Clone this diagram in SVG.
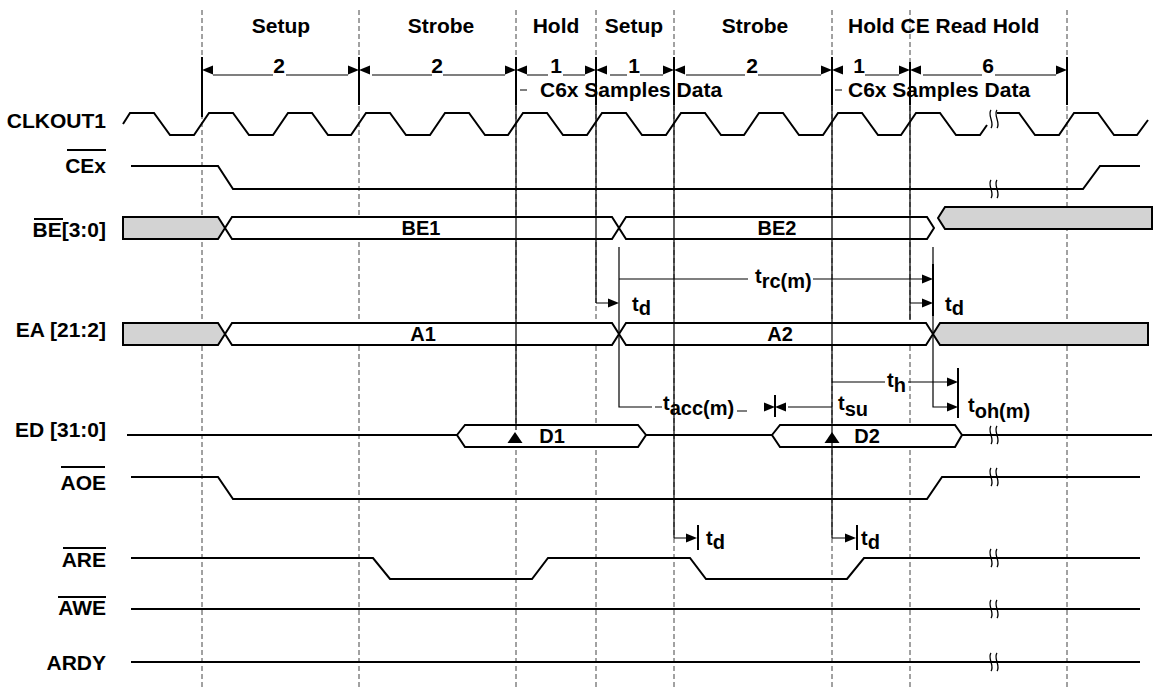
<svg xmlns="http://www.w3.org/2000/svg" width="1155" height="688" viewBox="0 0 1155 688">
<defs>
<style>
text{font-family:"Liberation Sans",Arial,Helvetica,sans-serif;font-weight:bold;fill:#000}
.lbl{font-size:21px;text-anchor:end}
.hdr{font-size:21px;text-anchor:middle}
.hs{font-size:21px}
.num{font-size:21px;text-anchor:middle}
.bt{font-size:20px;text-anchor:middle}
.tm{font-size:20px}
.sig{fill:none;stroke:#000;stroke-width:2;stroke-linejoin:miter}
.bus{stroke:#000;stroke-width:2;fill:#fff;stroke-linejoin:miter}
.gray{fill:#d3d3d3}
.grid{stroke:#444;stroke-width:1;stroke-dasharray:5 3;fill:none}
.ref{stroke:#000;stroke-width:1.2;fill:none}
.mk{stroke:#000;stroke-width:2;fill:none}
.ov{stroke:#000;stroke-width:2}
.brk{fill:none;stroke:#000;stroke-width:1.3}
.ah{fill:#000}
</style>
<path id="aR" class="ah" d="M0,0 L-11,-4.5 L-11,4.5 Z"/>
<path id="aL" class="ah" d="M0,0 L11,-4.5 L11,4.5 Z"/>
<path id="br" class="brk" d="M-3,-9 C-7,-4 1,4 -3,9 M3,-9 C-1,-4 7,4 3,9"/>
<path id="tri" class="ah" d="M0,0 L-7.5,11 L7.5,11 Z"/>
</defs>
<rect width="1155" height="688" fill="#fff"/>

<g id="grid">
<path class="grid" d="M202,10V688 M359,10V688 M516,10V688 M596,10V688 M674,10V688 M832,10V688 M910,10V688 M1067,10V688"/>
</g>

<g id="phases">
<text class="hdr" x="281" y="33">Setup</text>
<text class="hdr" x="441" y="33">Strobe</text>
<text class="hdr" x="556" y="33">Hold</text>
<text class="hdr" x="634" y="33">Setup</text>
<text class="hdr" x="755" y="33">Strobe</text>
<text class="hs" x="848" y="33">Hold CE Read Hold</text>
<text class="hs" x="540" y="97">C6x Samples Data</text>
<text class="hs" x="848" y="97">C6x Samples Data</text>
<text class="num" x="279" y="73">2</text>
<text class="num" x="437" y="73">2</text>
<text class="num" x="556" y="73">1</text>
<text class="num" x="634" y="73">1</text>
<text class="num" x="752" y="73">2</text>
<text class="num" x="859" y="73">1</text>
<text class="num" x="988" y="73">6</text>
</g>

<g id="labels">
<text class="lbl" x="106" y="128">CLKOUT1</text>
<text class="lbl" x="106" y="173">CEx</text>
<line class="ov" x1="67" y1="150" x2="106" y2="150"/>
<text class="lbl" x="106" y="237">BE[3:0]</text>
<line class="ov" x1="34" y1="219" x2="63" y2="219"/>
<text class="lbl" x="106" y="337">EA [21:2]</text>
<text class="lbl" x="106" y="437">ED [31:0]</text>
<text class="lbl" x="106" y="490">AOE</text>
<line class="ov" x1="61" y1="467" x2="105" y2="467"/>
<text class="lbl" x="106" y="567">ARE</text>
<line class="ov" x1="63" y1="548" x2="106" y2="548"/>
<text class="lbl" x="106" y="615">AWE</text>
<line class="ov" x1="58" y1="597" x2="106" y2="597"/>
<text class="lbl" x="106" y="670">ARDY</text>
</g>

<g id="clkout1">
<path class="sig" d="M123,124 L130,113 L154,113 L170,135 L194,135 L209,113 L233,113 L249,135 L273,135 L288,113 L312,113 L328,135 L351,135 L366,113 L390,113 L406,135 L430,135 L445,113 L469,113 L485,135 L508,135 L523,113 L547,113 L563,135 L587,135 L602,113 L626,113 L642,135 L666,135 L681,113 L705,113 L721,135 L744,135 L759,113 L783,113 L799,135 L823,135 L838,113 L862,113 L878,135 L901,135 L916,113 L940,113 L956,135 L980,135 L987,125"/>
<path class="sig" d="M997,113 L1019,113 L1035,135 L1059,135 L1074,113 L1098,113 L1114,135 L1137,135 L1148,120"/>
<use href="#br" x="994" y="119"/>
</g>

<g id="cex">
<path class="sig" d="M131,166 L218,166 L233,189 L1083,189 L1100,166 L1140,166"/>
<use href="#br" x="994" y="189"/>
</g>

<g id="be">
<path class="bus gray" d="M123,217 L218,217 L225,228 L218,239 L123,239 Z"/>
<path class="bus" d="M225,228 L232,217 L612,217 L619,228 L612,239 L232,239 Z"/>
<path class="bus" d="M619,228 L626,217 L927,217 L934,228 L927,239 L626,239 Z"/>
<path class="bus gray" d="M938,218 L945,207 L1152,207 L1152,229 L945,229 Z"/>
<text class="bt" x="421" y="235">BE1</text>
<text class="bt" x="777" y="235">BE2</text>
</g>

<g id="ea">
<path class="bus gray" d="M123,323 L218,323 L225,334 L218,345 L123,345 Z"/>
<path class="bus" d="M225,334 L232,323 L612,323 L619,334 L612,345 L232,345 Z"/>
<path class="bus" d="M619,334 L626,323 L926,323 L933,334 L926,345 L626,345 Z"/>
<path class="bus gray" d="M933,334 L940,323 L1148,323 L1148,345 L940,345 Z"/>
<text class="bt" x="423" y="341">A1</text>
<text class="bt" x="780" y="341">A2</text>
</g>

<g id="ed">
<path class="sig" d="M127,435 L457,435 M646,435 L772,435 M962,435 L1152,435"/>
<path class="bus" d="M457,435 L465,425 L638,425 L646,435 L638,447 L465,447 Z"/>
<path class="bus" d="M772,435 L780,425 L955,425 L962,435 L955,447 L780,447 Z"/>
<use href="#tri" x="515" y="432"/>
<use href="#tri" x="832" y="432"/>
<text class="bt" x="552" y="443">D1</text>
<text class="bt" x="867" y="443">D2</text>
<use href="#br" x="994" y="435"/>
</g>

<g id="aoe">
<path class="sig" d="M131,477 L218,477 L233,499 L927,499 L942,477 L1140,477"/>
<use href="#br" x="994" y="477"/>
</g>

<g id="are">
<path class="sig" d="M131,558 L373,558 L390,579 L532,579 L548,558 L690,558 L706,579 L847,579 L864,558 L1140,558"/>
<use href="#br" x="994" y="558"/>
</g>

<g id="awe">
<path class="sig" d="M131,609 L1140,609"/>
<use href="#br" x="994" y="609"/>
</g>

<g id="ardy">
<path class="sig" d="M131,662 L1140,662"/>
<use href="#br" x="994" y="662"/>
</g>

<g id="connectors">
<!-- cycle markers -->
<path class="mk" d="M202,57V117 M359,57V105 M516,57V105 M596,57V105 M674,57V105 M832,57V105 M910,62V105 M1067,57V105"/>
<!-- reference lines -->
<path class="ref" d="M516,105V430 M596,105V303 M674,105V538 M832,105V538 M910,105V320"/>
<!-- dimension lines -->
<path class="ref" d="M213,75H273 M286,75H348 M372,75H432 M443,75H505 M527,75H548 M563,75H585 M610,75H627 M640,75H663 M686,75H745 M758,75H821 M865,75H899 M923,75H982 M995,75H1056 M520,90H527 M835,90H842"/>
<use href="#aL" x="202" y="70"/><use href="#aR" x="359" y="70"/>
<use href="#aL" x="359" y="70"/><use href="#aR" x="516" y="70"/>
<use href="#aL" x="516" y="70"/><use href="#aR" x="596" y="70"/>
<use href="#aL" x="596" y="70"/><use href="#aR" x="674" y="70"/>
<use href="#aL" x="674" y="70"/><use href="#aR" x="832" y="70"/>
<use href="#aL" x="832" y="70"/><use href="#aR" x="910" y="70"/>
<use href="#aL" x="910" y="70"/><use href="#aR" x="1067" y="70"/>

<!-- t_rc, t_d, t_acc, t_su, t_h, t_oh -->
<path class="ref" d="M619,247V407H652 M655,407H662 M737,411H747 M619,279H748 M813,279H922 M933,247V407H947 M596,303H608 M910,303H922 M788,407H832 M832,382H885 M908,382H947"/>
<path class="mk" d="M933,264V316 M958,368V418 M775,395V417 M698,525V550 M857,525V550"/>
<use href="#aR" x="933" y="279"/>
<use href="#aR" x="619" y="303"/>
<use href="#aR" x="933" y="303"/>
<use href="#aR" x="775" y="407"/>
<use href="#aL" x="775" y="407"/>
<use href="#aR" x="958" y="382"/>
<use href="#aR" x="958" y="407"/>
<path class="ref" d="M674,538H687 M832,538H845"/>
<use href="#aR" x="697" y="538"/>
<use href="#aR" x="856" y="538"/>

<text class="tm" x="755" y="283">t<tspan dy="5">rc(m)</tspan></text>
<text class="tm" x="632" y="311">t<tspan dy="4">d</tspan></text>
<text class="tm" x="945" y="311">t<tspan dy="4">d</tspan></text>
<text class="tm" x="663" y="410">t<tspan dy="5">acc(m)</tspan></text>
<text class="tm" x="838" y="410">t<tspan dy="6">su</tspan></text>
<text class="tm" x="887" y="387">t<tspan dy="5">h</tspan></text>
<text class="tm" x="968" y="412">t<tspan dy="6">oh(m)</tspan></text>
<text class="tm" x="706" y="545">t<tspan dy="4">d</tspan></text>
<text class="tm" x="861" y="545">t<tspan dy="4">d</tspan></text>
</g>
</svg>
